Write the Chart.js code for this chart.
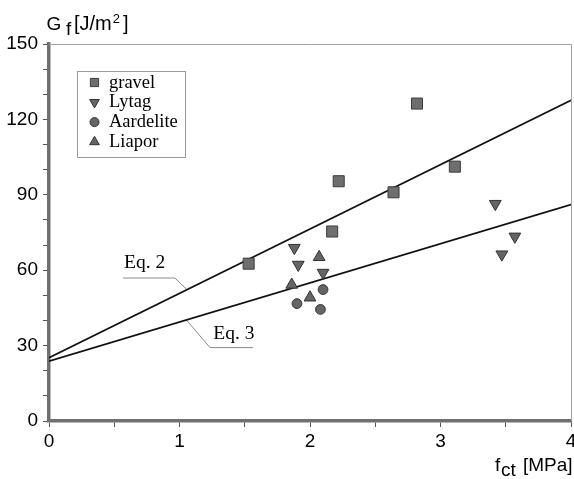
<!DOCTYPE html>
<html><head><meta charset="utf-8">
<script src="https://cdn.jsdelivr.net/npm/chart.js@4.4.1/dist/chart.umd.min.js"></script>
<style>html,body{margin:0;padding:0;background:#fff}#wrap{width:574px;height:479px;position:relative}</style>
</head><body><div id="wrap"><canvas id="c" width="574" height="479"></canvas></div>
<script>
// ---- data ----
const gravelX = [1.53, 2.22, 2.17, 2.64, 3.11, 2.82];
const gravelY = [62.6, 95.4, 75.4, 91.0, 101.2, 126.3];
const lytagX  = [1.88, 1.91, 2.10, 3.42, 3.57, 3.47];
const lytagY  = [68.9, 62.2, 59.0, 86.4, 73.4, 66.3];
const aardX   = [1.90, 2.10, 2.08];
const aardY   = [46.7, 52.3, 44.4];
const liaporX = [2.07, 1.86, 2.00];
const liaporY = [65.2, 54.2, 49.1];
const eq2X = [0, 4];
const eq2Y = [25.2, 127.6];
const eq3X = [0, 4];
const eq3Y = [23.8, 86.1];
const eq2LeaderX = [0.567, 0.965, 1.055];
const eq2LeaderY = [56.9, 56.9, 52.4];
const eq3LeaderX = [1.049, 1.234, 1.564];
const eq3LeaderY = [40.4, 29.2, 29.2];
const eqLabels = ['Eq. 2', 'Eq. 3'];
const eqLabelX = [0.575, 1.259];
const eqLabelY = [61.0, 32.8];
const seriesNames = ['gravel', 'Lytag', 'Aardelite', 'Liapor'];
const xLabelTicks = [0, 1, 2, 3, 4];
const yLabelTicks = [0, 30, 60, 90, 120, 150];

const pts = (xs, ys) => xs.map((x, i) => ({x: x, y: ys[i]}));
const SANS = '"Liberation Sans", Arial, sans-serif';
const SERIF = '"Liberation Serif", "Times New Roman", serif';

const markFill = '#656565', markEdge = '#333';

const datasets = [
  {label: seriesNames[0], data: pts(gravelX, gravelY), pointStyle: 'rect', pointRadius: 7.8,
   backgroundColor: '#6e6e6e', borderColor: '#3c3c3c', borderWidth: 1, showLine: false},
  {label: seriesNames[1], data: pts(lytagX, lytagY), pointStyle: 'triangle', pointRadius: 6.8, rotation: 180,
   backgroundColor: markFill, borderColor: markEdge, borderWidth: 1, showLine: false},
  {label: seriesNames[2], data: pts(aardX, aardY), pointStyle: 'circle', pointRadius: 4.9,
   backgroundColor: markFill, borderColor: markEdge, borderWidth: 1, showLine: false},
  {label: seriesNames[3], data: pts(liaporX, liaporY), pointStyle: 'triangle', pointRadius: 6.8,
   backgroundColor: markFill, borderColor: markEdge, borderWidth: 1, showLine: false},
  {label: 'Eq. 2', data: pts(eq2X, eq2Y), showLine: true, pointRadius: 0, borderColor: '#111', borderWidth: 1.7, fill: false},
  {label: 'Eq. 3', data: pts(eq3X, eq3Y), showLine: true, pointRadius: 0, borderColor: '#111', borderWidth: 1.7, fill: false},
  {label: 'l2', data: pts(eq2LeaderX, eq2LeaderY), showLine: true, pointRadius: 0, borderColor: '#8a8a8a', borderWidth: 1, fill: false},
  {label: 'l3', data: pts(eq3LeaderX, eq3LeaderY), showLine: true, pointRadius: 0, borderColor: '#8a8a8a', borderWidth: 1, fill: false}
];

function drawMarker(ctx, ds, x, y, r) {
  const opts = {pointStyle: ds.pointStyle, radius: r, rotation: ds.rotation || 0, borderWidth: ds.borderWidth};
  ctx.save();
  ctx.fillStyle = ds.backgroundColor;
  ctx.strokeStyle = ds.borderColor;
  ctx.lineWidth = ds.borderWidth;
  Chart.helpers.drawPoint(ctx, opts, x, y);
  ctx.restore();
}

const decor = {
  id: 'decor',
  afterDraw(chart) {
    const ctx = chart.ctx, a = chart.chartArea;
    const xs = chart.scales.x, ys = chart.scales.y;
    ctx.save();
    // top and right frame
    ctx.strokeStyle = '#a0a0a0';
    ctx.lineWidth = 1;
    ctx.beginPath();
    ctx.moveTo(a.left, a.top + 0.5); ctx.lineTo(a.right + 0.5, a.top + 0.5);
    ctx.lineTo(a.right + 0.5, a.bottom);
    ctx.stroke();
    // legend box
    ctx.strokeStyle = '#9a9a9a';
    ctx.strokeRect(77.5, 71.5, 108, 86);
    ctx.fillStyle = '#000';
    ctx.font = '18.5px ' + SERIF;
    ctx.textBaseline = 'alphabetic';
    const rs = [5.8, 5.6, 4.5, 5.6];
    for (let i = 0; i < 4; i++) {
      const yy = 82.5 + i * 19.8;
      drawMarker(ctx, chart.data.datasets[i], 94.5, yy, rs[i]);
      ctx.fillStyle = '#000';
      ctx.fillText(seriesNames[i], 109, yy + 5);
    }
    // Eq labels
    ctx.font = '19.5px ' + SERIF;
    for (let i = 0; i < eqLabels.length; i++) {
      ctx.fillText(eqLabels[i], xs.getPixelForValue(eqLabelX[i]), ys.getPixelForValue(eqLabelY[i]));
    }
    // axis titles
    ctx.font = '19px ' + SANS;
    ctx.fillText('G', 46.5, 30);
    ctx.fillText('f', 66, 35);
    ctx.font = '20px ' + SANS;
    ctx.fillText('[J/m', 74, 30);
    let cx = 74 + ctx.measureText('[J/m').width + 1;
    ctx.font = '13px ' + SANS;
    ctx.fillText('2', cx, 23);
    cx += ctx.measureText('2').width + 3;
    ctx.font = '20px ' + SANS;
    ctx.fillText(']', cx, 30);
    ctx.font = '19px ' + SANS;
    ctx.fillText('f', 495, 471);
    ctx.fillText('ct', 501, 476);
    ctx.fillText('[MPa]', 523, 471);
    ctx.restore();
  }
};

new Chart(document.getElementById('c'), {
  type: 'scatter',
  data: {datasets: datasets},
  options: {
    responsive: false,
    animation: false,
    devicePixelRatio: 1,
    layout: {padding: {top: 44, right: 3, left: 0, bottom: 0}, autoPadding: false},
    plugins: {legend: {display: false}, tooltip: {enabled: false}},
    scales: {
      x: {
        type: 'linear', min: 0, max: 4,
        afterFit: s => { s.height = 58; s.paddingLeft = 0; s.paddingRight = 0; },
        afterBuildTicks: s => { const t = []; for (let v = 0; v <= 4.0001; v += 0.5) t.push({value: Math.round(v * 10) / 10}); s.ticks = t; },
        ticks: {stepSize: 0.5, autoSkip: false, maxRotation: 0, padding: 3, color: '#000',
                font: {family: SANS, size: 19},
                callback: v => xLabelTicks.includes(v) ? String(v) : ''},
        grid: {drawOnChartArea: false, drawTicks: true, tickLength: 6, color: '#555', tickWidth: 1},
        border: {display: true, color: '#707070', width: 3.5}
      },
      y: {
        type: 'linear', min: 0, max: 150,
        afterFit: s => { s.width = 49; s.paddingTop = 0; s.paddingBottom = 0; },
        afterBuildTicks: s => { const t = []; for (let v = 0; v <= 150; v += 10) t.push({value: v}); s.ticks = t; },
        ticks: {stepSize: 10, autoSkip: false, padding: 5, color: '#000',
                font: {family: SANS, size: 19},
                callback: v => yLabelTicks.includes(v) ? String(v) : ''},
        grid: {drawOnChartArea: false, drawTicks: true, tickLength: 6, color: '#555', tickWidth: 1},
        border: {display: true, color: '#707070', width: 3.5}
      }
    }
  },
  plugins: [decor]
});
</script>
</body></html>
